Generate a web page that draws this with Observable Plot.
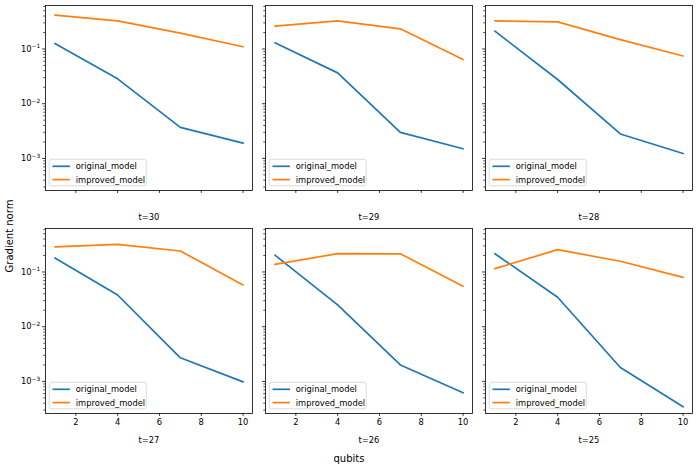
<!DOCTYPE html>
<html><head><meta charset="utf-8">
<script src="https://cdn.jsdelivr.net/npm/d3@7"></script>
<script src="https://cdn.jsdelivr.net/npm/@observablehq/plot@0.6"></script>
<style>
body{margin:0;background:#fff;}
#fig{position:relative;width:698px;height:471px;font-family:"DejaVu Sans",sans-serif;color:#000;background:#fff;overflow:hidden;}
#fig .panel{position:absolute;}
#fig .sup{position:absolute;font-size:10px;white-space:nowrap;line-height:1;}
</style></head><body><div id="fig"></div>
<script>
// ---- data ----
const qubits = [1, 4, 7, 10];
const panelTitles = ["t=30", "t=29", "t=28", "t=27", "t=26", "t=25"];
const seriesNames = ["original_model", "improved_model"];
const seriesColors = ["#1f77b4", "#ff7f0e"];

const original_t30 = [0.126, 0.0285, 0.0037, 0.0019];
const improved_t30 = [0.415, 0.327, 0.195, 0.11];
const original_t29 = [0.130, 0.0366, 0.0030, 0.0015];
const improved_t29 = [0.262, 0.327, 0.234, 0.064];
const original_t28 = [0.212, 0.0277, 0.0028, 0.00123];
const improved_t28 = [0.327, 0.313, 0.148, 0.0746];
const original_t27 = [0.18, 0.038, 0.0027, 0.00098];
const improved_t27 = [0.287, 0.32, 0.242, 0.058];
const original_t26 = [0.203, 0.025, 0.0020, 0.00062];
const improved_t26 = [0.138, 0.216, 0.215, 0.055];
const original_t25 = [0.216, 0.0345, 0.0018, 0.000344];
const improved_t25 = [0.115, 0.256, 0.157, 0.080];

const xTicks = [2, 4, 6, 8, 10];
const yMajorTicks = [1e-3, 1e-2, 1e-1];
const yMajorExponents = ["−3", "−2", "−1"];
const minorMultipliers = [2, 3, 4, 5, 6, 7, 8, 9];
const decades = [1e-4, 1e-3, 1e-2, 1e-1];

const originalSeries = [original_t30, original_t29, original_t28, original_t27, original_t26, original_t25];
const improvedSeries = [improved_t30, improved_t29, improved_t28, improved_t27, improved_t26, improved_t25];

// ---- layout ----
const colLefts = [45, 265, 485];
const rowTops = [5, 228];
const panelW = 207, panelH = 185;
const mL = 40, mR = 4, mT = 2, mB = 40;
const yDomain = [2.594e-4, 0.6237];
const xDomain = [0.55, 10.45];
const fs = 8.33;

const yMinorTicks = decades.flatMap(d => minorMultipliers.map(m => m * d)).filter(v => v > yDomain[0] && v < yDomain[1]);

const fig = document.getElementById("fig");

panelTitles.forEach((title, i) => {
  const row = Math.floor(i / 3), col = i % 3;
  const data = [];
  qubits.forEach((q, j) => data.push({q, v: originalSeries[i][j], s: seriesNames[0]}));
  qubits.forEach((q, j) => data.push({q, v: improvedSeries[i][j], s: seriesNames[1]}));
  const chart = Plot.plot({
    width: mL + panelW + mR,
    height: mT + panelH + mB,
    marginLeft: mL, marginRight: mR, marginTop: mT, marginBottom: mB,
    style: {fontFamily: "DejaVu Sans", fontSize: fs + "px", background: "transparent", color: "#000", overflow: "visible"},
    x: {domain: xDomain},
    y: {type: "log", domain: yDomain},
    color: {domain: seriesNames, range: seriesColors},
    marks: [
      Plot.axisY(yMinorTicks, {tickSize: 1.7, tickFormat: () => "", label: null, strokeWidth: 0.7}),
      Plot.axisY(yMajorTicks, {tickSize: 2.9, tickPadding: 2.5, strokeWidth: 0.8, label: null,
        tickFormat: col === 0 ? (d => "10^" + yMajorExponents[yMajorTicks.indexOf(d)]) : (() => "")}),
      Plot.axisX(xTicks, {tickSize: 2.9, tickPadding: 2.5, strokeWidth: 0.8, label: null,
        tickFormat: row === 1 ? (d => String(d)) : (() => "")}),
      Plot.line(data, {x: "q", y: "v", z: "s", stroke: "s", strokeWidth: 1.7, strokeLinejoin: "round"}),
      Plot.frame({stroke: "#000", strokeWidth: 0.8}),
      Plot.text([title], {frameAnchor: "bottom", dy: 29, text: d => d, fontSize: fs, fill: "#000"})
    ]
  });
  chart.classList.add("panel");
  chart.style.left = (colLefts[col] - mL) + "px";
  chart.style.top = (rowTops[row] - mT) + "px";
  fig.appendChild(chart);

  const svg = d3.select(chart);
  // mathtext-like tick labels: 10 with superscript exponent
  svg.selectAll("text").each(function() {
    const t = this.textContent;
    if (t.startsWith("10^")) {
      const exp = t.slice(3);
      const el = d3.select(this);
      el.text(null);
      el.append("tspan").text("10");
      el.append("tspan").attr("font-size", fs * 0.7).attr("dy", "-0.55em").text(exp);
    }
  });

  // legend (lower left, inside axes)
  const pad = 4.2, bw = 97, bh = 26.5;
  const g = svg.append("g").attr("transform", `translate(${mL + pad},${mT + panelH - pad - bh})`);
  g.append("rect").attr("width", bw).attr("height", bh).attr("rx", 2)
    .attr("fill", "#fff").attr("fill-opacity", 0.8).attr("stroke", "#cccccc").attr("stroke-width", 0.7);
  seriesNames.forEach((name, k) => {
    const yy = 7 + k * 13.3;
    g.append("line").attr("x1", 3.3).attr("x2", 20.7).attr("y1", yy).attr("y2", yy)
      .attr("stroke", seriesColors[k]).attr("stroke-width", 1.7);
    g.append("text").attr("x", 26.5).attr("y", yy).attr("dy", "0.35em")
      .attr("text-anchor", "start")
      .attr("font-size", fs).attr("fill", "#000").text(name);
  });
});

// figure-level labels
const xl = document.createElement("div");
xl.className = "sup"; xl.textContent = "qubits";
fig.appendChild(xl);
xl.style.left = (349 - xl.offsetWidth / 2) + "px";
xl.style.top = (459 - xl.offsetHeight / 2) + "px";

const yl = document.createElement("div");
yl.className = "sup"; yl.textContent = "Gradient norm";
fig.appendChild(yl);
const w = yl.offsetWidth, h = yl.offsetHeight;
yl.style.left = (10 - w / 2) + "px";
yl.style.top = (236 - h / 2) + "px";
yl.style.transform = "rotate(-90deg)";
</script>
</body></html>
